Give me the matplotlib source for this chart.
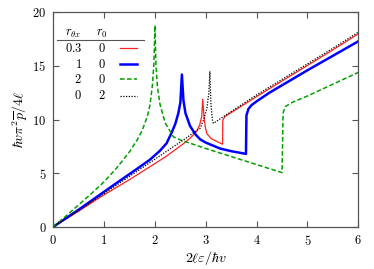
import matplotlib
matplotlib.use('Agg')
import matplotlib.pyplot as plt

plt.rcParams['mathtext.fontset'] = 'cm'
plt.rcParams['font.family'] = 'serif'
plt.rcParams['font.serif'] = ['DejaVu Serif']

# r_thx = 0.3, r_0 = 0
red_x = [0, 0.5, 0.92, 1.5, 1.9, 2.2, 2.56, 2.7, 2.82, 2.88, 2.92, 2.94,
         2.96, 2.99, 3.02, 3.1, 3.2, 3.33, 3.335, 3.38, 3.5, 4.0, 4.5, 5.0, 5.5, 6.0]
red_y = [0, 1.45, 2.75, 4.4, 5.6, 6.5, 7.75, 8.3, 8.9, 9.5, 10.3, 11.9,
         10.5, 9.3, 8.7, 8.25, 8.0, 7.7, 9.96, 10.3, 10.65, 12.15, 13.6, 15.05, 16.5, 18.0]

# r_thx = 1, r_0 = 0
blue_x = [0, 0.5, 0.92, 1.25, 1.57, 1.9, 2.1, 2.23, 2.33, 2.4, 2.46, 2.5, 2.53,
          2.56, 2.6, 2.69, 2.8, 2.89, 3.0, 3.28, 3.5, 3.79,
          3.8, 3.84, 3.9, 4.0, 4.25, 4.5, 5.0, 5.5, 6.0]
blue_y = [0, 1.6, 3.0, 4.1, 5.15, 6.25, 7.1, 7.8, 8.8, 9.6, 10.6, 11.6, 14.2,
          11.8, 10.6, 9.4, 8.6, 8.15, 7.85, 7.3, 7.05, 6.8,
          10.4, 11.0, 11.35, 11.7, 12.5, 13.2, 14.6, 15.95, 17.3]

# r_thx = 2, r_0 = 0
green_x = [0, 0.25, 0.5, 0.75, 1.0, 1.25, 1.5, 1.65, 1.75, 1.85, 1.9, 1.95, 1.98, 2.0,
           2.02, 2.05, 2.1, 2.2, 2.36, 2.5, 2.75, 3.0, 3.5, 4.0, 4.5,
           4.52, 4.56, 4.7, 5.0, 5.5, 6.0]
green_y = [0, 1.0, 2.05, 3.1, 4.2, 5.5, 7.0, 8.1, 9.0, 10.3, 11.3, 13.2, 15.3, 18.8,
           15.0, 13.0, 11.4, 9.7, 8.4, 8.1, 7.7, 7.3, 6.55, 5.8, 5.05,
           10.6, 11.2, 11.6, 12.2, 13.3, 14.4]

# r_thx = 0, r_0 = 2
black_x = [0, 0.5, 1.0, 1.5, 2.0, 2.17, 2.56, 2.89, 2.95, 3.02, 3.06, 3.08,
           3.1, 3.13, 3.15, 3.5, 4.0, 4.5, 5.0, 5.5, 6.0]
black_y = [0, 1.55, 3.1, 4.7, 6.3, 6.85, 8.1, 9.2, 9.9, 11.0, 12.5, 14.5,
           11.5, 10.0, 9.65, 10.75, 12.3, 13.75, 15.2, 16.65, 18.15]

series = [
    ('0.3', '0', red_x, red_y, dict(color='#ff2020', lw=0.9)),
    ('1', '0', blue_x, blue_y, dict(color='#0000ff', lw=1.8)),
    ('2', '0', green_x, green_y, dict(color='#00a000', lw=1.1, dashes=(3, 1.6))),
    ('0', '2', black_x, black_y, dict(color='black', lw=0.9, dashes=(1, 1.2))),
]

fig = plt.figure(figsize=(3.74, 2.69), dpi=100)
ax = fig.add_axes([0.1425, 0.157, 0.8155, 0.797])

for rth, r0, xs, ys, style in series:
    ax.plot(xs, ys, **style)

ax.set_xlim(0, 6)
ax.set_ylim(0, 20)
xt = [0, 1, 2, 3, 4, 5, 6]
yt = [0, 5, 10, 15, 20]
ax.set_xticks(xt)
ax.set_xticklabels(['$%d$' % v for v in xt], fontsize=9)
ax.set_yticks(yt)
ax.set_yticklabels(['$%d$' % v for v in yt], fontsize=9)
ax.tick_params(direction='in', top=True, right=True, length=4, width=0.8,
               color='#555555', pad=5)
for sp in ax.spines.values():
    sp.set_color('#555555')
    sp.set_linewidth(0.9)

ax.set_xlabel(r'$2\ell\varepsilon/\hbar v$', fontsize=10, labelpad=1)
ax.set_ylabel(r'$\hbar v\pi^2\overline{p}/4\ell$', fontsize=10, labelpad=2)

# table-style legend
tr = ax.transAxes
ax.text(0.065, 0.903, r'$r_{\theta x}$', transform=tr, ha='center', va='center', fontsize=9)
ax.text(0.160, 0.903, r'$r_0$', transform=tr, ha='center', va='center', fontsize=9)
ax.plot([0.012, 0.297], [0.869, 0.869], transform=tr, color='#555555', lw=0.8)
rows_y = [0.833, 0.759, 0.689, 0.610]
for (rth, r0, xs, ys, style), ry in zip(series, rows_y):
    ax.text(0.094, ry, '$%s$' % rth, transform=tr, ha='right', va='center', fontsize=9)
    ax.text(0.160, ry, '$%s$' % r0, transform=tr, ha='center', va='center', fontsize=9)
    ax.plot([0.219, 0.274], [ry, ry], transform=tr, **style)

fig.savefig('out.png', dpi=100)
